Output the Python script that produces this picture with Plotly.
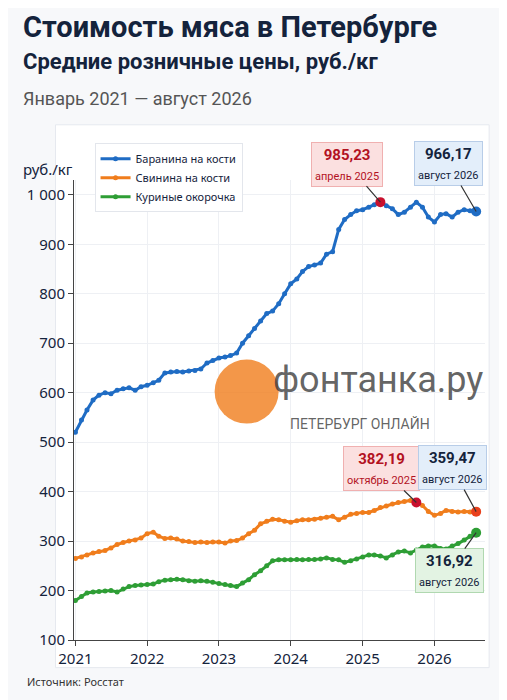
import pandas as pd
import plotly.graph_objects as go

months = pd.date_range("2021-01-01", "2026-08-01", freq="MS")

lamb = [520, 545, 565, 585, 595, 600, 598, 605, 608, 610, 605, 612,
        615, 620, 625, 640, 642, 643, 642, 644, 645, 648, 660, 665,
        670, 672, 675, 680, 700, 715, 730, 745, 760, 765, 780, 800,
        820, 830, 845, 855, 858, 862, 880, 885, 930, 950, 960, 968,
        970, 975, 980, 985.23, 978, 972, 960, 965, 975, 985, 975, 955,
        945, 960, 962, 955, 965, 970, 968, 966.17]
pork = [265, 268, 272, 276, 279, 281, 286, 293, 297, 300, 302, 306,
        315, 318, 310, 305, 306, 304, 300, 299, 297, 298, 297, 298,
        298, 296, 300, 301, 306, 315, 322, 335, 340, 344, 343, 340,
        338, 341, 343, 343, 344, 346, 348, 350, 343, 348, 354, 356,
        358, 358, 362, 368, 371, 375, 378, 380, 382.19, 378, 372, 360,
        352, 356, 362, 360, 359, 360, 359, 359.47]
chicken = [180, 188, 195, 197, 198, 199, 200, 197, 203, 208, 210, 211,
           212, 213, 218, 221, 222, 223, 222, 220, 219, 220, 219, 217,
           214, 212, 210, 208, 215, 222, 232, 240, 250, 260, 262, 262,
           262, 263, 262, 263, 263, 264, 266, 263, 262, 257, 260, 264,
           268, 272, 272, 270, 266, 272, 278, 280, 276, 282, 288, 290,
           290, 285, 284, 290, 295, 302, 310, 316.92]
names = ["Баранина на кости", "Свинина на кости", "Куриные окорочка"]
colors = ["#1f6cc4", "#f07d1c", "#2e9e35"]

cond = "Roboto, sans-serif"

fig = go.Figure()
for name, vals, c in zip(names, [lamb, pork, chicken], colors):
    fig.add_trace(go.Scatter(x=months, y=vals, name=name, mode="lines+markers",
                             line=dict(color=c, width=3), marker=dict(size=5, color=c)))

# highlighted points
fig.add_trace(go.Scatter(x=[months[51], months[57]], y=[lamb[51], pork[57]], mode="markers",
                         marker=dict(size=10, color="#c8102e"), showlegend=False))
fig.add_trace(go.Scatter(x=[months[-1]] * 3, y=[lamb[-1], pork[-1], chicken[-1]], mode="markers",
                         marker=dict(size=10, color=["#1f6cc4", "#e8401c", "#2e9e35"]), showlegend=False))

def label(x, y, val, sub, col, bg, border, ax, ay):
    fig.add_annotation(x=x, y=y, ax=ax, ay=ay, text=f"<b>{val}</b><br><span style='font-size:11px'>{sub}</span>",
                       showarrow=True, arrowhead=0, arrowwidth=1.2, arrowcolor="#333",
                       font=dict(size=15, color=col, family=cond),
                       bgcolor=bg, bordercolor=border, borderwidth=1, borderpad=3)

label(months[51], lamb[51], "985,23", "апрель 2025", "#b3121f", "#fbe0e0", "#f0b0b0", -33, -38)
label(months[-1], lamb[-1], "966,17", "август 2026", "#14233c", "#e3eefa", "#b8cde8", -28, -48)
label(months[57], pork[57], "382,19", "октябрь 2025", "#b3121f", "#fbe0e0", "#f0b0b0", -35, -34)
label(months[-1], pork[-1], "359,47", "август 2026", "#14233c", "#e3eefa", "#b8cde8", -24, -44)
label(months[-1], chicken[-1], "316,92", "август 2026", "#14233c", "#e3f3e3", "#b0d8b0", -27, 38)

# card background
fig.add_shape(type="rect", xref="paper", yref="paper", x0=-0.045, x1=1.01, y0=-0.06, y1=1.12,
              line=dict(color="#e6e9ef", width=1), fillcolor="white", layer="below")

fig.add_annotation(xref="paper", yref="paper", x=-0.13, y=1.375, xanchor="left", showarrow=False,
                   text="<b>Стоимость мяса в Петербурге</b>", font=dict(size=29, color="#14233c", family=cond))
fig.add_annotation(xref="paper", yref="paper", x=-0.13, y=1.29, xanchor="left", showarrow=False,
                   text="<b>Средние розничные цены, руб./кг</b>", font=dict(size=22, color="#14233c", family=cond))
fig.add_annotation(xref="paper", yref="paper", x=-0.13, y=1.205, xanchor="left", showarrow=False,
                   text="Январь 2021 — август 2026", font=dict(size=18, color="#555", family=cond))
fig.add_annotation(xref="paper", yref="paper", x=-0.13, y=1.05, xanchor="left", showarrow=False,
                   text="руб./кг", font=dict(size=15, color="#14233c"))
fig.add_annotation(xref="paper", yref="paper", x=-0.12, y=-0.11, xanchor="left", showarrow=False,
                   text="Источник: Росстат", font=dict(size=11, color="#333"))

# watermark
fig.add_shape(type="circle", xref="paper", yref="paper", xsizemode="pixel", ysizemode="pixel",
              xanchor=0.42, yanchor=0.54, x0=-32, x1=32, y0=-32, y1=32,
              fillcolor="rgba(240,125,28,0.8)", line=dict(width=0))
fig.add_annotation(xref="paper", yref="paper", x=0.48, y=0.565, xanchor="left", showarrow=False,
                   text="фонтанка.ру", font=dict(size=36, color="rgba(60,60,60,0.8)", family=cond))
fig.add_annotation(xref="paper", yref="paper", x=0.52, y=0.47, xanchor="left", showarrow=False,
                   text="ПЕТЕРБУРГ ОНЛАЙН", font=dict(size=14, color="rgba(60,60,60,0.8)", family=cond))

fig.update_layout(
    width=507, height=700, plot_bgcolor="white", paper_bgcolor="#f7f8fa",
    margin=dict(l=66, r=30, t=172, b=68), separators=", ",
    font=dict(family="Noto Sans", color="#14233c"),
    legend=dict(x=0.05, y=1.08, xanchor="left", yanchor="top", bgcolor="white",
                bordercolor="#e3e6ec", borderwidth=1, font=dict(size=11)),
    xaxis=dict(range=["2020-12-25", "2026-09-15"], dtick="M12", tickformat="%Y",
               showgrid=True, gridcolor="#eef0f4", showline=True, linecolor="#444",
               ticks="outside", tickfont=dict(size=15)),
    yaxis=dict(range=[100, 1030], tickvals=[100, 200, 300, 400, 500, 600, 700, 800, 900, 1000],
               tickformat=",d", showgrid=True, gridcolor="#eef0f4", showline=True, linecolor="#444",
               ticks="outside", tickfont=dict(size=15)),
)
fig.write_html("out.html")
